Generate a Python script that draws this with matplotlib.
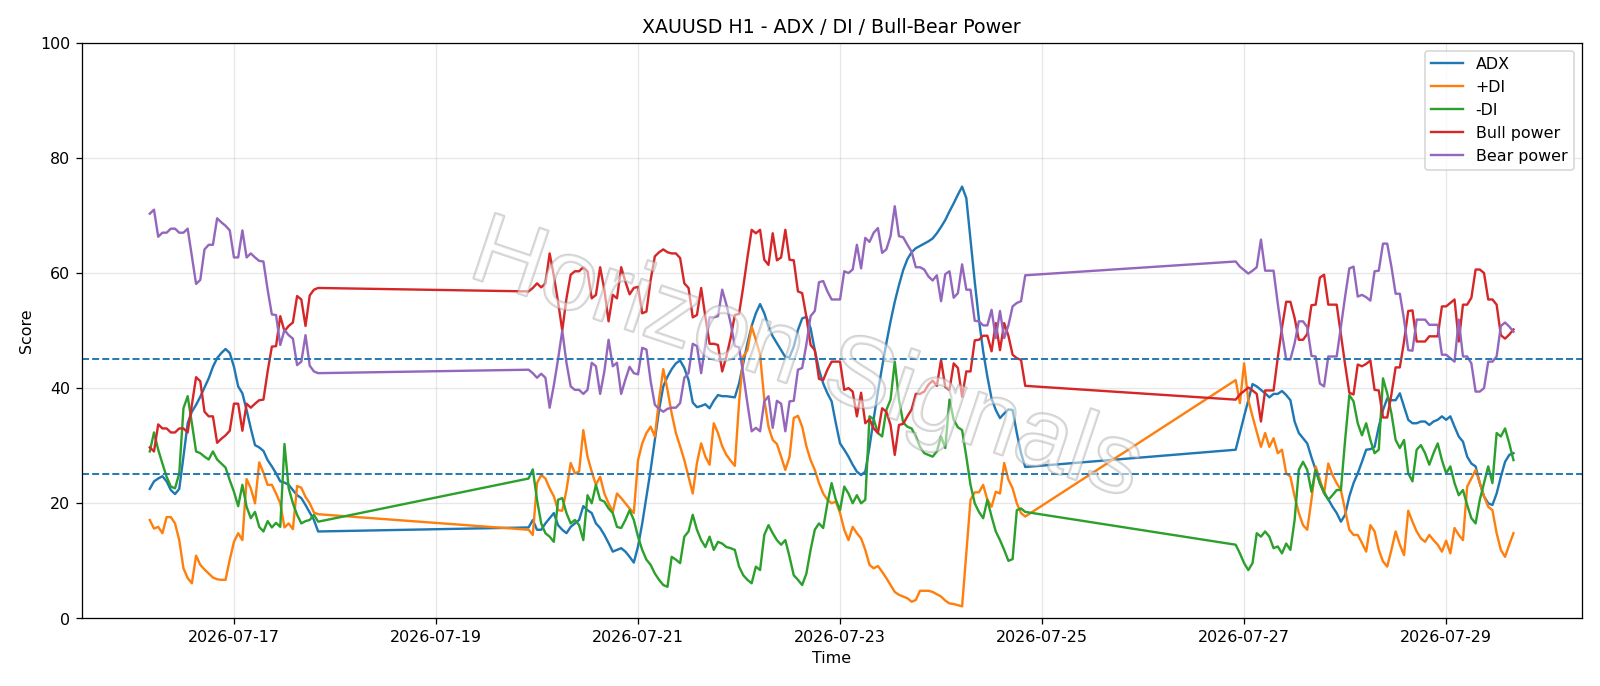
import numpy as np
import pandas as pd
import matplotlib
matplotlib.use("Agg")
import matplotlib.pyplot as plt
import matplotlib.dates as mdates
import matplotlib.patheffects as pe

# hourly bars, three trading blocks (weekend gaps in between)
t1 = pd.date_range("2026-07-16 04:00", periods=41, freq="h")
t2 = pd.date_range("2026-07-19 22:00", periods=119, freq="h")
t3 = pd.date_range("2026-07-26 22:00", periods=67, freq="h")

# ---- block 1 ----
adx1 = [22.5, 23.8, 24.3, 24.7, 23.8, 22.3, 21.6, 22.5, 28.1, 33.9, 35.9, 37.1, 38.5, 40.1, 41.7, 43.7, 45.2, 46.1, 46.8, 46.1,
        43.7, 40.3, 39.1, 36.2, 33.0, 30.1, 29.7, 29.1, 27.5, 26.4, 25.2, 23.8, 23.6, 23.2, 22.3, 21.4, 20.9, 19.7, 18.4, 17.1, 15.1]
pdi1 = [17.1, 15.6, 15.9, 14.8, 17.6, 17.6, 16.5, 13.6, 8.7, 7.0, 6.1, 10.9, 9.3, 8.5, 7.8, 7.1, 6.8, 6.7, 6.7, 10.2,
        13.3, 14.8, 13.6, 24.2, 22.6, 20.0, 27.1, 25.3, 23.2, 23.2, 21.7, 20.0, 15.8, 16.5, 15.5, 23.0, 22.7, 21.1, 20.0, 18.4, 18.1]
mdi1 = [29.0, 32.3, 29.3, 26.9, 24.6, 22.9, 22.6, 25.2, 36.5, 38.6, 33.9, 29.0, 28.7, 28.1, 27.6, 29.0, 27.6, 26.9, 26.2, 24.0,
        22.0, 19.5, 23.2, 19.4, 17.4, 18.5, 15.9, 15.1, 16.9, 15.8, 16.6, 15.9, 30.3, 22.6, 20.0, 18.0, 16.5, 16.9, 17.1, 18.0, 16.8]
bull1 = [29.7, 29.0, 33.7, 33.0, 33.0, 32.3, 32.3, 33.0, 33.0, 32.3, 37.1, 41.9, 41.2, 35.9, 35.1, 35.1, 30.5, 31.2, 31.8, 32.6,
         37.3, 37.3, 32.6, 37.3, 36.6, 37.3, 37.9, 38.0, 42.9, 47.2, 47.3, 52.5, 49.9, 50.8, 51.4, 56.0, 55.4, 50.8, 56.1, 57.1, 57.4]
bear1 = [70.3, 71.0, 66.3, 67.0, 67.0, 67.7, 67.7, 67.0, 67.0, 67.7, 62.9, 58.1, 58.8, 64.1, 64.9, 64.9, 69.5, 68.8, 68.2, 67.4,
         62.7, 62.7, 67.4, 62.7, 63.4, 62.7, 62.1, 62.0, 57.1, 52.8, 52.7, 47.5, 50.1, 49.2, 48.6, 44.0, 44.6, 49.2, 43.9, 42.9, 42.6]

# ---- block 2 ----
adx2 = [15.8, 17.1, 15.4, 15.4, 16.5, 17.4, 18.3, 16.2, 15.4, 14.8,
        15.9, 16.5, 17.1, 19.5, 18.8, 18.3, 16.5, 15.7, 14.5, 13.1,
        11.6, 11.9, 12.2, 11.6, 10.7, 9.7, 12.5, 16.5, 21.2, 25.8,
        31.0, 36.2, 40.3, 42.0, 43.3, 44.3, 44.8, 43.5, 41.4, 37.5,
        36.7, 36.9, 37.2, 36.5, 37.8, 38.8, 38.6, 38.6, 38.5, 38.4,
        40.8, 44.3, 47.8, 50.8, 53.0, 54.6, 53.0, 50.7, 49.0, 47.8,
        46.6, 45.4, 45.4, 47.2, 50.1, 52.1, 52.4, 50.4, 46.6, 43.2,
        40.8, 39.1, 37.7, 33.9, 30.4, 29.3, 28.1, 26.7, 25.5, 24.9,
        25.5, 29.8, 34.7, 39.4, 43.7, 47.8, 51.6, 55.0, 57.9, 60.5,
        62.4, 63.6, 64.3, 64.7, 65.1, 65.5, 66.0, 66.9, 68.0, 69.2,
        70.7, 72.1, 73.6, 75.0, 73.0, 65.8, 58.5, 51.9, 46.4, 42.0,
        38.2, 36.2, 34.8, 35.6, 36.3, 36.2, 32.2, 28.7, 26.3]
pdi2 = [15.4, 14.5, 23.5, 24.9, 24.3, 22.6, 21.2, 18.8, 18.7, 22.3,
        27.0, 25.2, 25.5, 32.7, 28.1, 25.5, 23.2, 24.6, 21.7, 20.0,
        18.5, 21.7, 20.9, 20.0, 19.1, 18.3, 27.5, 30.4, 32.2, 33.3,
        31.6, 38.0, 43.3, 39.7, 35.6, 32.2, 29.9, 27.5, 24.6, 21.7,
        27.0, 30.4, 28.1, 26.7, 33.9, 32.2, 29.9, 28.4, 27.4, 26.5,
        37.4, 45.5, 46.6, 50.7, 48.4, 45.8, 38.0, 33.3, 31.0, 30.3,
        28.1, 25.8, 28.1, 34.8, 35.2, 33.3, 29.9, 27.5, 25.8, 23.5,
        21.7, 20.6, 20.0, 20.3, 18.3, 15.4, 13.6, 15.9, 14.8, 13.9,
        11.9, 9.3, 8.7, 9.1, 8.1, 7.0, 5.8, 4.6, 4.1, 3.8,
        3.5, 2.9, 3.2, 4.8, 4.8, 4.8, 4.6, 4.2, 3.8, 3.1,
        2.6, 2.5, 2.3, 2.1, 11.3, 20.6, 21.9, 21.9, 23.2, 20.6,
        19.4, 22.0, 21.7, 27.0, 24.1, 22.6, 20.0, 18.3, 17.7]
mdi2 = [24.3, 25.9, 20.6, 16.5, 14.8, 14.2, 13.3, 20.6, 20.9, 18.3,
        16.5, 17.1, 16.2, 13.6, 21.4, 20.0, 23.2, 20.6, 20.3, 19.1,
        18.3, 15.9, 15.7, 17.1, 18.8, 17.1, 14.2, 11.9, 10.2, 9.3,
        7.8, 6.7, 5.8, 5.5, 10.7, 10.2, 9.6, 14.2, 15.1, 18.0,
        15.4, 13.6, 12.4, 14.2, 11.9, 13.3, 13.0, 12.4, 12.2, 11.9,
        9.0, 7.5, 6.7, 6.1, 9.0, 8.4, 14.5, 16.2, 14.8, 13.6,
        12.8, 13.6, 10.7, 7.5, 6.7, 5.8, 7.8, 11.9, 15.4, 16.5,
        15.7, 20.0, 23.5, 20.6, 18.8, 22.9, 21.7, 20.0, 21.4, 20.0,
        20.6, 35.1, 34.6, 32.2, 31.6, 36.2, 38.0, 44.6, 38.0, 34.0,
        33.3, 33.0, 31.6, 29.8, 28.7, 28.4, 28.1, 29.0, 31.6, 29.6,
        38.0, 34.5, 33.2, 32.7, 28.1, 23.2, 20.0, 18.5, 17.4, 20.6,
        17.7, 15.1, 13.6, 11.9, 10.0, 10.3, 18.8, 19.1, 18.5]
bull2 = [56.8, 57.4, 58.2, 57.5, 58.2, 63.4, 59.5, 55.0, 50.0, 55.6,
         59.7, 60.3, 60.3, 61.0, 60.3, 55.6, 56.2, 61.0, 57.1, 51.6,
         56.2, 55.6, 61.0, 58.5, 56.3, 57.4, 57.6, 53.0, 53.3, 58.8,
         62.9, 63.6, 64.1, 63.6, 63.4, 63.4, 62.6, 58.2, 57.4, 52.3,
         52.7, 57.4, 52.4, 47.7, 47.7, 47.5, 42.9, 45.5, 48.7, 52.7,
         52.9, 57.6, 62.7, 67.5, 66.9, 67.5, 62.3, 61.4, 66.9, 62.2,
         62.7, 67.5, 62.3, 62.2, 56.8, 56.5, 52.4, 47.5, 46.6, 41.6,
         41.4, 43.2, 44.6, 44.6, 44.6, 39.7, 40.0, 39.4, 35.1, 39.2,
         33.9, 34.6, 33.0, 32.2, 36.5, 35.9, 33.6, 28.4, 33.6, 33.8,
         35.1, 36.3, 39.0, 39.0, 39.4, 40.6, 41.3, 40.4, 44.9, 40.2,
         39.7, 44.3, 43.5, 38.5, 42.9, 42.9, 48.3, 48.4, 49.1, 49.1,
         46.4, 51.3, 46.6, 51.3, 49.1, 45.8, 45.2, 44.9, 40.4]
bear2 = [43.2, 42.6, 41.8, 42.5, 41.8, 36.6, 40.5, 45.0, 50.0, 44.4,
         40.3, 39.7, 39.7, 39.0, 39.7, 44.4, 43.8, 39.0, 42.9, 48.4,
         43.8, 44.4, 39.0, 41.5, 43.7, 42.6, 42.4, 47.0, 46.7, 41.2,
         37.1, 36.4, 35.9, 36.4, 36.6, 36.6, 37.4, 41.8, 42.6, 47.7,
         47.3, 42.6, 47.6, 52.3, 52.3, 52.5, 57.1, 54.5, 51.3, 47.3,
         47.1, 42.4, 37.3, 32.5, 33.1, 32.5, 37.7, 38.6, 33.1, 37.8,
         37.3, 32.5, 37.7, 37.8, 43.2, 43.5, 47.6, 52.5, 53.4, 58.4,
         58.6, 56.8, 55.4, 55.4, 55.4, 60.3, 60.0, 60.6, 64.9, 60.8,
         66.1, 65.4, 67.0, 67.8, 63.5, 64.1, 66.4, 71.6, 66.4, 66.2,
         64.9, 63.7, 61.0, 61.0, 60.6, 59.4, 58.7, 59.6, 55.1, 59.8,
         60.3, 55.7, 56.5, 61.5, 57.1, 57.1, 51.7, 51.6, 50.9, 50.9,
         53.6, 48.7, 53.4, 48.7, 50.9, 54.2, 54.8, 55.1, 59.6]

# ---- block 3 ----
adx3 = [29.3, 32.2, 35.1, 37.9, 40.7, 40.3, 39.7, 39.1, 38.4, 39.0,
        39.0, 39.5, 38.8, 37.9, 34.2, 32.2, 31.3, 30.4, 28.0, 25.8,
        23.5, 21.7, 20.7, 19.4, 18.3, 16.8, 18.0, 21.2, 23.5, 25.2,
        27.2, 29.3, 29.4, 29.8, 33.3, 36.2, 38.2, 37.9, 37.9, 39.1,
        36.8, 34.5, 33.9, 33.9, 34.2, 34.2, 33.6, 34.2, 34.5, 35.1,
        34.5, 35.1, 33.3, 31.6, 30.7, 28.1, 26.9, 26.4, 23.5, 21.2,
        20.0, 19.7, 21.7, 24.6, 27.2, 28.4, 28.7]
pdi3 = [41.4, 37.4, 44.3, 37.9, 35.1, 32.4, 29.8, 32.2, 29.8, 31.3,
        28.7, 29.3, 25.2, 24.6, 21.2, 18.3, 16.2, 15.4, 20.6, 26.4,
        24.1, 21.7, 26.9, 24.9, 23.5, 22.3, 18.8, 15.4, 14.5, 14.5,
        13.1, 11.6, 16.2, 15.1, 11.9, 9.9, 9.0, 11.9, 15.1, 12.8,
        11.0, 18.7, 16.8, 15.1, 13.9, 13.3, 14.5, 13.6, 12.8, 11.6,
        13.5, 11.3, 15.7, 14.5, 13.6, 22.9, 24.3, 25.8, 23.5, 21.2,
        19.4, 18.8, 14.8, 11.9, 10.7, 12.8, 14.8]
mdi3 = [12.8, 11.3, 9.6, 8.4, 9.6, 14.8, 14.2, 15.1, 14.2, 12.2,
        12.5, 11.3, 13.0, 11.9, 17.1, 25.8, 27.2, 25.8, 22.0, 25.8,
        23.5, 22.0, 20.6, 21.4, 22.3, 22.3, 31.0, 38.8, 37.7, 33.9,
        31.8, 33.9, 31.0, 28.7, 29.3, 41.7, 39.1, 35.6, 31.0, 29.6,
        31.0, 25.2, 23.8, 29.3, 30.1, 28.7, 26.7, 28.7, 30.4, 27.5,
        25.2, 26.4, 23.5, 21.4, 22.3, 19.7, 17.4, 16.5, 20.6, 23.5,
        26.4, 23.5, 32.2, 31.6, 33.0, 30.4, 27.5]
bull3 = [38.0, 38.9, 39.5, 40.1, 39.6, 39.0, 34.2, 39.6, 39.6, 39.6,
         45.3, 50.5, 55.0, 55.0, 52.2, 48.4, 48.4, 49.4, 54.4, 54.5,
         59.2, 59.7, 54.5, 54.5, 54.5, 49.3, 44.1, 39.2, 38.9, 44.1,
         43.8, 44.2, 44.8, 39.7, 39.6, 34.9, 34.9, 38.9, 43.6, 43.6,
         48.1, 53.4, 53.5, 48.1, 48.1, 48.1, 49.0, 49.0, 49.0, 54.2,
         54.2, 54.8, 55.4, 48.1, 54.5, 54.5, 55.7, 60.6, 60.6, 60.0,
         55.4, 55.4, 54.5, 49.2, 48.6, 49.3, 50.2]
bear3 = [62.0, 61.1, 60.5, 59.9, 60.4, 61.0, 65.8, 60.4, 60.4, 60.4,
         54.7, 49.5, 45.0, 45.0, 47.8, 51.6, 51.6, 50.6, 45.6, 45.5,
         40.8, 40.3, 45.5, 45.5, 45.5, 50.7, 55.9, 60.8, 61.1, 55.9,
         56.2, 55.8, 55.2, 60.3, 60.4, 65.1, 65.1, 61.1, 56.4, 56.4,
         51.9, 46.6, 46.5, 51.9, 51.9, 51.9, 51.0, 51.0, 51.0, 45.8,
         45.8, 45.2, 44.6, 51.9, 45.5, 45.5, 44.3, 39.4, 39.4, 40.0,
         44.6, 44.6, 45.5, 50.8, 51.4, 50.7, 49.8]

times = t1.append(t2).append(t3)
series = [
    ("ADX", adx1 + adx2 + adx3),
    ("+DI", pdi1 + pdi2 + pdi3),
    ("-DI", mdi1 + mdi2 + mdi3),
    ("Bull power", bull1 + bull2 + bull3),
    ("Bear power", bear1 + bear2 + bear3),
]

fig = plt.figure(figsize=(14.0005, 6.004))
ax = fig.add_axes([0.051, 0.0985, 0.9375, 0.839])

for name, vals in series:
    ax.plot(times, vals, label=name)

# threshold lines
ax.axhline(45, linestyle="--", color="tab:blue", linewidth=1.2)
ax.axhline(25, linestyle="--", color="tab:blue", linewidth=1.2)

ax.set_ylim(0, 100)
ax.set_title("XAUUSD H1 - ADX / DI / Bull-Bear Power")
ax.set_xlabel("Time")
ax.set_ylabel("Score")
ax.grid(True, alpha=0.3)
ax.xaxis.set_major_locator(mdates.DayLocator(bymonthday=range(17, 30, 2)))
ax.xaxis.set_major_formatter(mdates.DateFormatter("%Y-%m-%d"))
ax.legend(loc="upper right")

# watermark
ax.text(0.483, 0.445, "Horizon Signals", transform=ax.transAxes, fontsize=63,
        family="Liberation Sans", rotation=-18.5, ha="center", va="center",
        color=(1, 1, 1, 0.3), zorder=6,
        path_effects=[pe.withStroke(linewidth=1.5, foreground=(0.6, 0.6, 0.6, 0.45))])

fig.savefig("out.png", dpi=800 / 7)
